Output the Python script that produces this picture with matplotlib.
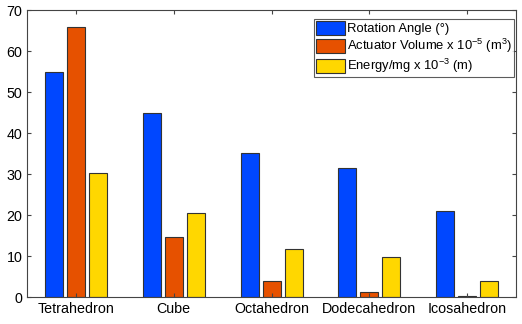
import matplotlib
matplotlib.use("Agg")
import matplotlib.pyplot as plt
import numpy as np

plt.rcParams['font.family'] = ['Liberation Sans', 'DejaVu Sans']
plt.rcParams['mathtext.default'] = 'regular'

categories = ["Tetrahedron", "Cube", "Octahedron", "Dodecahedron", "Icosahedron"]
rotation_angle = [55.0, 45.0, 35.2, 31.6, 20.9]
actuator_volume = [65.9, 14.6, 4.0, 1.2, 0.2]
energy = [30.3, 20.6, 11.7, 9.8, 4.0]
series_labels = ["Rotation Angle (°)", "Actuator Volume x 10$^{-5}$ (m$^{3}$)", "Energy/mg x 10$^{-3}$ (m)"]
colors = ["#0047FF", "#E65100", "#FFD700"]

fig = plt.figure(figsize=(5.22, 3.24), dpi=100)
ax = fig.add_axes([0.052, 0.083, 0.9365, 0.886])

x = np.arange(1, len(categories) + 1)
w = 0.185
off = 0.225
for i, (vals, lab, c) in enumerate(zip([rotation_angle, actuator_volume, energy], series_labels, colors)):
    ax.bar(x + (i - 1) * off, vals, width=w, color=c, edgecolor="#333333", linewidth=0.8, label=lab)

ax.set_xlim(0.5, 5.5)
ax.set_ylim(0, 70)
ax.set_xticks(x)
ax.set_xticklabels(categories)
ax.set_yticks(np.arange(0, 71, 10))
ax.tick_params(direction="in", top=True, right=True, labelsize=10.3, length=3, color="#444444")
for s in ax.spines.values():
    s.set_color("#444444")
    s.set_linewidth(0.8)

leg = ax.legend(loc="upper right", bbox_to_anchor=(0.995, 0.97), fontsize=9.4, frameon=True,
                fancybox=False, edgecolor="#333333", borderaxespad=0.0, handlelength=2.2,
                handleheight=1.3, handletextpad=0.12, labelspacing=0.15, borderpad=0.15)
leg.get_frame().set_linewidth(0.8)

fig.savefig("out.png", dpi=100)
